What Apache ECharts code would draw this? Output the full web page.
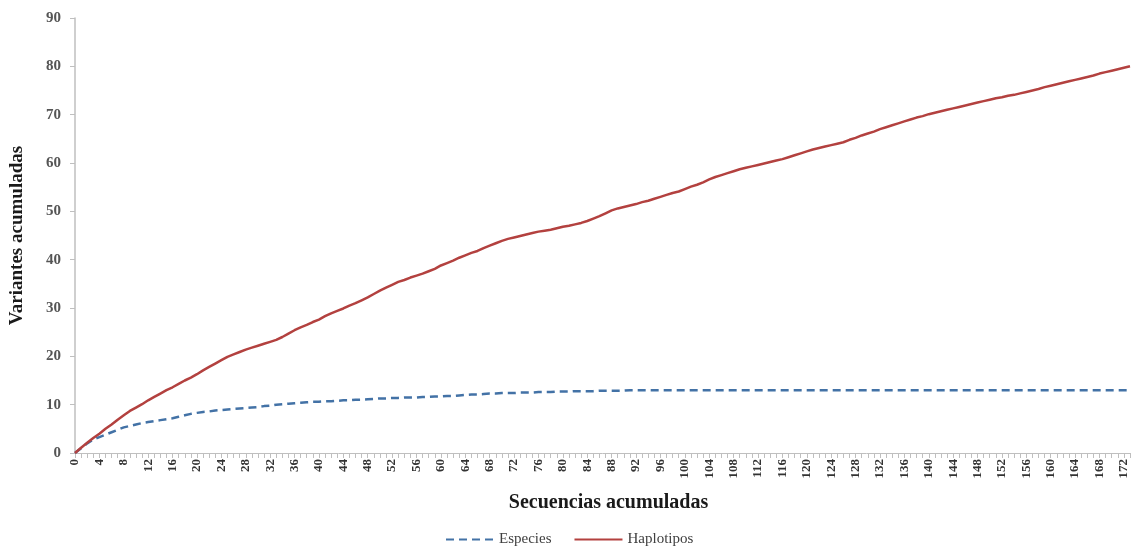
<!DOCTYPE html>
<html style="height: 100%">
<head>
    <meta charset="utf-8">
    <script type="text/javascript" src="https://cdn.jsdelivr.net/npm/echarts@6/dist/echarts.min.js"></script>
</head>
<body style="height: 100%; margin: 0; background: #fff">
<div id="container" style="width: 1134px; height: 550px"></div>
<script type="text/javascript">
    // secuencias acumuladas 0..173
    var secuencias = [];
    for (var i = 0; i <= 173; i++) {
        secuencias.push(String(i));
    }

    var especies = [
        0, 1.0, 2.0, 2.8, 3.3, 3.8, 4.3, 4.8, 5.3, 5.6,
        5.9, 6.2, 6.4, 6.6, 6.8, 7.0, 7.2, 7.5, 7.8, 8.1,
        8.3, 8.5, 8.6, 8.8, 8.9, 9.0, 9.1, 9.2, 9.3, 9.4,
        9.5, 9.7, 9.8, 10.0, 10.1, 10.2, 10.3, 10.4, 10.5, 10.6,
        10.6, 10.7, 10.7, 10.8, 10.9, 10.9, 11.0, 11.0, 11.1, 11.2,
        11.3, 11.3, 11.4, 11.4, 11.5, 11.5, 11.5, 11.6, 11.6, 11.7,
        11.7, 11.8, 11.8, 11.9, 12.0, 12.1, 12.1, 12.2, 12.3, 12.3,
        12.4, 12.4, 12.4, 12.5, 12.5, 12.5, 12.6, 12.6, 12.6, 12.7,
        12.7, 12.7, 12.8, 12.8, 12.8, 12.8, 12.9, 12.9, 12.9, 12.9,
        12.9, 13.0, 13.0, 13.0, 13.0, 13.0, 13.0, 13.0, 13.0, 13.0,
        13.0, 13.0, 13.0, 13.0, 13.0, 13.0, 13.0, 13.0, 13.0, 13.0,
        13.0, 13.0, 13.0, 13.0, 13.0, 13.0, 13.0, 13.0, 13.0, 13.0,
        13.0, 13.0, 13.0, 13.0, 13.0, 13.0, 13.0, 13.0, 13.0, 13.0,
        13.0, 13.0, 13.0, 13.0, 13.0, 13.0, 13.0, 13.0, 13.0, 13.0,
        13.0, 13.0, 13.0, 13.0, 13.0, 13.0, 13.0, 13.0, 13.0, 13.0,
        13.0, 13.0, 13.0, 13.0, 13.0, 13.0, 13.0, 13.0, 13.0, 13.0,
        13.0, 13.0, 13.0, 13.0, 13.0, 13.0, 13.0, 13.0, 13.0, 13.0,
        13.0, 13.0, 13.0, 13.0
    ];

    var haplotipos = [
        0, 1.1, 2.1, 3.1, 4.0, 5.0, 5.9, 6.9, 7.8, 8.7,
        9.4, 10.1, 10.9, 11.6, 12.3, 13.0, 13.6, 14.3, 15.0, 15.6,
        16.3, 17.1, 17.8, 18.5, 19.2, 19.9, 20.4, 20.9, 21.4, 21.8,
        22.2, 22.6, 23.0, 23.4, 24.0, 24.7, 25.4, 26.0, 26.5, 27.1,
        27.6, 28.3, 28.9, 29.4, 29.9, 30.5, 31.0, 31.6, 32.2, 32.9,
        33.6, 34.2, 34.8, 35.4, 35.8, 36.3, 36.7, 37.1, 37.6, 38.1,
        38.8, 39.3, 39.8, 40.4, 40.9, 41.4, 41.8, 42.4, 42.9, 43.4,
        43.9, 44.3, 44.6, 44.9, 45.2, 45.5, 45.8, 46.0, 46.2, 46.5,
        46.8, 47.0, 47.3, 47.6, 48.0, 48.5, 49.0, 49.6, 50.2, 50.6,
        50.9, 51.2, 51.5, 51.9, 52.2, 52.6, 53.0, 53.4, 53.8, 54.1,
        54.6, 55.1, 55.5, 56.0, 56.6, 57.1, 57.5, 57.9, 58.3, 58.7,
        59.0, 59.3, 59.6, 59.9, 60.2, 60.5, 60.8, 61.2, 61.6, 62.0,
        62.4, 62.8, 63.1, 63.4, 63.7, 64.0, 64.3, 64.8, 65.2, 65.7,
        66.1, 66.5, 67.0, 67.4, 67.8, 68.2, 68.6, 69.0, 69.4, 69.7,
        70.1, 70.4, 70.7, 71.0, 71.3, 71.6, 71.9, 72.2, 72.5, 72.8,
        73.1, 73.4, 73.6, 73.9, 74.1, 74.4, 74.7, 75.0, 75.3, 75.7,
        76.0, 76.3, 76.6, 76.9, 77.2, 77.5, 77.8, 78.1, 78.5, 78.8,
        79.1, 79.4, 79.7, 80.0
    ];

    var serif = "'Liberation Serif', 'DejaVu Serif', serif";
    var grayLine = "#bfbfbf";

    var myChart = echarts.init(document.getElementById("container"));
    var option = {
        backgroundColor: "#ffffff",
        animation: false,
        grid: {left: 75, right: 4, top: 18, bottom: 97, outerBoundsMode: "none"},
        legend: {
            bottom: -2,
            left: 440,
            itemWidth: 48,
            itemHeight: 10,
            itemGap: 22,
            itemStyle: {opacity: 0},
            textStyle: {fontFamily: serif, fontSize: 15, color: "#404040"},
            data: ["Especies", "Haplotipos"]
        },
        xAxis: {
            type: "category",
            data: secuencias,
            boundaryGap: false,
            name: "Secuencias acumuladas",
            nameLocation: "middle",
            nameGap: 40,
            nameTextStyle: {fontFamily: serif, fontSize: 20, fontWeight: "bold", color: "#1a1a1a", padding: [0, 0, 0, 12]},
            axisLine: {lineStyle: {color: grayLine, width: 1}},
            axisTick: {show: true, interval: 0, length: 5, lineStyle: {color: grayLine}},
            axisLabel: {
                interval: 3,
                rotate: 90,
                margin: 6,
                fontFamily: serif,
                fontSize: 13,
                fontWeight: "bold",
                color: "#333333"
            },
            splitLine: {show: false}
        },
        yAxis: {
            type: "value",
            min: 0,
            max: 90,
            interval: 10,
            name: "Variantes acumuladas",
            nameLocation: "middle",
            nameGap: 48,
            nameTextStyle: {fontFamily: serif, fontSize: 19, fontWeight: "bold", color: "#1a1a1a"},
            axisLine: {show: true, lineStyle: {color: grayLine, width: 1.5}},
            axisTick: {show: true, length: 5, lineStyle: {color: grayLine}},
            axisLabel: {fontFamily: serif, fontSize: 15, fontWeight: "bold", color: "#555555", margin: 14},
            splitLine: {show: false}
        },
        series: [
            {
                name: "Especies",
                type: "line",
                data: especies,
                showSymbol: false,
                symbol: "none",
                color: "#4372a6",
                lineStyle: {width: 2.5, type: [8, 5], color: "#4372a6"}
            },
            {
                name: "Haplotipos",
                type: "line",
                data: haplotipos,
                showSymbol: false,
                symbol: "none",
                color: "#b3413f",
                lineStyle: {width: 2.5, color: "#b3413f"}
            }
        ]
    };
    myChart.setOption(option);
</script>
</body>
</html>
